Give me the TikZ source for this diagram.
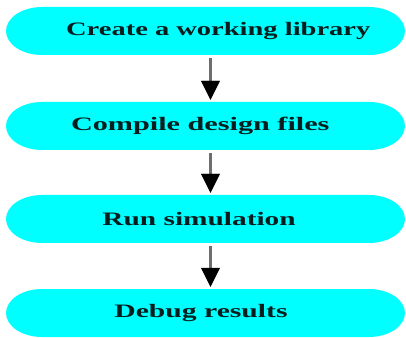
\documentclass[tikz,border=0pt]{standalone}
\usepackage{fontspec}
\setmainfont{Liberation Serif}
\usetikzlibrary{shapes.misc,arrows.meta}
\definecolor{boxcyan}{RGB}{0,255,255}
\definecolor{txtdark}{RGB}{8,30,30}
\definecolor{shaftgray}{RGB}{110,110,110}
\tikzset{
  stepbox/.style={rounded rectangle, fill=boxcyan, draw=none,
    minimum width=266pt, minimum height=48pt, inner sep=0pt,
    xscale=1.5, transform shape,
    font=\fontsize{19pt}{22pt}\selectfont\bfseries, text=txtdark},
  flow/.style={draw=shaftgray, line width=3.5pt, shorten <=3pt, shorten >=2pt,
    -{Triangle[length=19pt,width=19pt,color=black,line width=0.4pt]}}
}
\begin{document}
\begin{tikzpicture}[x=1pt,y=1pt]
\useasboundingbox (0,0) rectangle (406,337);
\fill[white] (0,0) rectangle (406,337);
\node[stepbox] (a) at (205.5,306) {\hspace*{17pt}Create a working library};
\node[stepbox] (b) at (205.5,211) {\hspace*{-7pt}\scalebox{1.06}[1]{Compile design files}};
\node[stepbox] (c) at (205.5,118) {\hspace*{-8.5pt}\scalebox{1.03}[1]{Run simulation}};
\node[stepbox] (d) at (205.5,24) {\hspace*{-6pt}\scalebox{1.04}[1]{Debug results}};
\draw[flow] ([xshift=5pt]a.south) -- ([xshift=5pt]b.north);
\draw[flow] ([xshift=5pt]b.south) -- ([xshift=5pt]c.north);
\draw[flow] ([xshift=5pt]c.south) -- ([xshift=5pt]d.north);
\end{tikzpicture}
\end{document}
